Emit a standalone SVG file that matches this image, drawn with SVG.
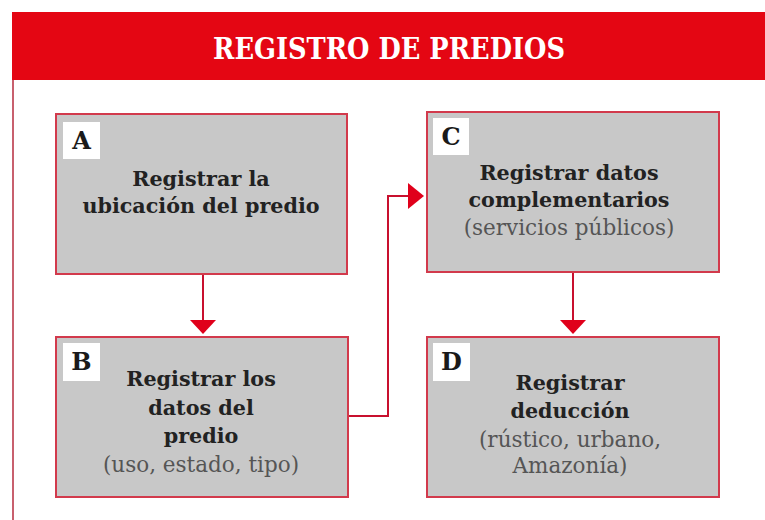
<svg xmlns="http://www.w3.org/2000/svg" width="765" height="520" viewBox="0 0 765 520">
<defs>
<style>
.box{fill:#c8c8c8;stroke:#d23a4c;stroke-width:2}
.lab{fill:#ffffff}
.letter{font-family:"DejaVu Serif","Liberation Serif",serif;font-weight:bold;font-size:24px;fill:#1a1a1a;text-anchor:middle}
.t{font-family:"DejaVu Serif","Liberation Serif",serif;font-weight:bold;font-size:20.7px;fill:#222222;text-anchor:middle}
.s{font-family:"DejaVu Serif","Liberation Serif",serif;font-size:21.5px;fill:#555555;text-anchor:middle}
.con{fill:none;stroke:#c8102e;stroke-width:2}
.head{fill:#e40613}
</style>
</defs>
<rect x="0" y="0" width="765" height="520" fill="#ffffff"/>
<g id="header">
<rect class="head" x="12" y="12" width="753" height="68"/>
<text x="389" y="59" font-family="DejaVu Serif, Liberation Serif, serif" font-weight="bold" font-size="29" fill="#ffffff" text-anchor="middle" textLength="352" lengthAdjust="spacingAndGlyphs">REGISTRO DE PREDIOS</text>
</g>
<line x1="13" y1="80" x2="13" y2="520" stroke="#c8606e" stroke-width="2"/>
<g id="connectors">
<line class="con" x1="203" y1="274" x2="203" y2="322"/>
<polygon points="190,320 216,320 203,334" fill="#e0001b"/>
<polyline class="con" points="348,416 388,416 388,196 410,196"/>
<polygon points="408,183 408,209 424,196" fill="#e0001b"/>
<line class="con" x1="573" y1="272" x2="573" y2="322"/>
<polygon points="560,320 586,320 573,334" fill="#e0001b"/>
</g>
<g id="nodeA">
<rect class="box" x="56" y="114" width="291" height="160"/>
<rect class="lab" x="63" y="122" width="37" height="37"/>
<text class="letter" x="81.5" y="149">A</text>
<text class="t" x="201" y="186">Registrar la</text>
<text class="t" x="201" y="213">ubicación del predio</text>
</g>
<g id="nodeB">
<rect class="box" x="56" y="337" width="292" height="160"/>
<rect class="lab" x="63" y="343" width="37" height="38"/>
<text class="letter" x="81.5" y="370">B</text>
<text class="t" x="201" y="386">Registrar los</text>
<text class="t" x="201" y="415">datos del</text>
<text class="t" x="201" y="443">predio</text>
<text class="s" x="201" y="472">(uso, estado, tipo)</text>
</g>
<g id="nodeC">
<rect class="box" x="427" y="112" width="292" height="160"/>
<rect class="lab" x="433" y="118" width="36" height="37"/>
<text class="letter" x="451" y="145">C</text>
<text class="t" x="569" y="180">Registrar datos</text>
<text class="t" x="569" y="207">complementarios</text>
<text class="s" x="569" y="235">(servicios públicos)</text>
</g>
<g id="nodeD">
<rect class="box" x="427" y="337" width="292" height="160"/>
<rect class="lab" x="433" y="343" width="37" height="38"/>
<text class="letter" x="451.5" y="370">D</text>
<text class="t" x="570" y="390">Registrar</text>
<text class="t" x="570" y="418">deducción</text>
<text class="s" x="570" y="447">(rústico, urbano,</text>
<text class="s" x="570" y="473">Amazonía)</text>
</g>
</svg>
